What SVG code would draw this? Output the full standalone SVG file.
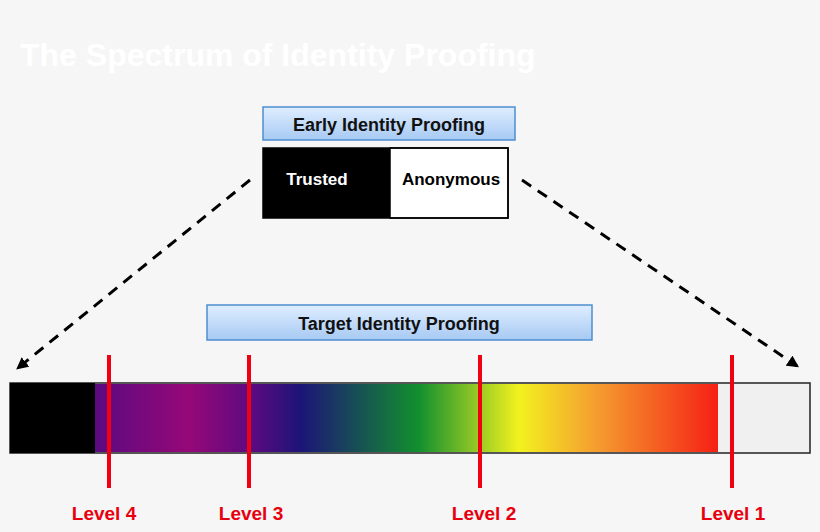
<svg xmlns="http://www.w3.org/2000/svg" width="820" height="532" viewBox="0 0 820 532">
<style>
.t{font-family:"Liberation Sans",Arial,sans-serif;font-weight:bold}
.lvl{font-family:"Liberation Sans",Arial,sans-serif;font-weight:bold;fill:#e8000f;font-size:19px;text-anchor:middle}
.lv{stroke:#f00010;stroke-width:4}
.hdr{stroke:#4d8fd0;stroke-width:1.5;fill:url(#hg)}
.dash{stroke:#000;stroke-width:3;stroke-dasharray:11 8;fill:none;marker-end:url(#ah)}
</style>
<defs>
<linearGradient id="hg" x1="0" y1="0" x2="0" y2="1"><stop offset="0" stop-color="#dfeeff"/><stop offset="1" stop-color="#a7c9f3"/></linearGradient>
<linearGradient id="sp" x1="0" y1="0" x2="1" y2="0">
<stop offset="0" stop-color="#5a0a80"/><stop offset="0.15" stop-color="#960878"/><stop offset="0.25" stop-color="#5e0a80"/><stop offset="0.33" stop-color="#1c1478"/><stop offset="0.52" stop-color="#12902e"/><stop offset="0.68" stop-color="#f2f21e"/><stop offset="0.8" stop-color="#f5a030"/><stop offset="1" stop-color="#f52015"/>
</linearGradient>
<marker id="ah" viewBox="0 0 10 10" refX="8" refY="5" markerWidth="4" markerHeight="4" orient="auto"><path d="M0,0L10,5L0,10z" fill="#000"/></marker>
</defs>
<rect width="820" height="532" fill="#f6f6f6"/>
<text class="t" x="20" y="66" font-size="32" fill="#ffffff">The Spectrum of Identity Proofing</text>
<g id="early">
<rect class="hdr" x="263" y="107" width="252" height="33"/>
<text class="t" x="389" y="131" font-size="18" text-anchor="middle" fill="#111">Early Identity Proofing</text>
</g>
<g id="early-bar">
<rect x="263" y="148" width="127" height="70" fill="#000"/>
<rect x="390" y="148" width="118" height="70" fill="#fff" stroke="#000" stroke-width="1.5"/>
<rect x="263" y="148" width="245" height="70" fill="none" stroke="#000" stroke-width="1.5"/>
<text class="t" x="317" y="185" font-size="17" text-anchor="middle" fill="#fff">Trusted</text>
<text class="t" x="451" y="185" font-size="17" text-anchor="middle" fill="#000">Anonymous</text>
</g>
<g id="connectors">
<path class="dash" d="M250,180L18,368"/>
<path class="dash" d="M522,180L797,366"/>
</g>
<g id="target">
<rect class="hdr" x="207" y="305" width="385" height="35"/>
<text class="t" x="399" y="330" font-size="18" text-anchor="middle" fill="#111">Target Identity Proofing</text>
</g>
<g id="spectrum">
<rect x="10" y="383" width="800" height="70" fill="#f0f0f0" stroke="#222" stroke-width="1.5"/>
<rect x="10" y="383" width="85" height="70" fill="#000"/>
<rect x="95" y="384" width="623" height="68" fill="url(#sp)"/>
</g>
<g id="levels">
<line class="lv" x1="109" y1="355" x2="109" y2="488"/>
<line class="lv" x1="249" y1="355" x2="249" y2="488"/>
<line class="lv" x1="480" y1="355" x2="480" y2="488"/>
<line class="lv" x1="732" y1="355" x2="732" y2="488"/>
<text class="lvl" x="104" y="520">Level 4</text>
<text class="lvl" x="251" y="520">Level 3</text>
<text class="lvl" x="484" y="520">Level 2</text>
<text class="lvl" x="733" y="520">Level 1</text>
</g>
</svg>
